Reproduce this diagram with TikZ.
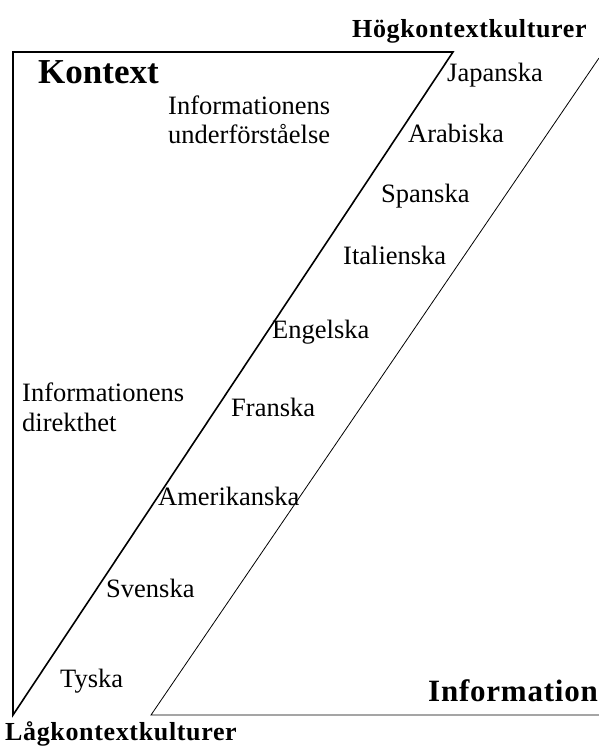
\documentclass[tikz,border=0pt]{standalone}
\usepackage{fontspec}
\setmainfont{Liberation Serif}
\newfontfamily\spacedbold[LetterSpace=2.5]{Liberation Serif}
\begin{document}
\begin{tikzpicture}[x=1pt,y=-1pt,
  lbl/.style={font=\fontsize{26.5}{30}\selectfont, inner sep=0pt, anchor=base west},
  head/.style={inner sep=0pt, anchor=base west, font=\fontsize{26}{30}\selectfont\spacedbold\bfseries},
  thickline/.style={line width=1.6pt, line join=miter},
  thinline/.style={line width=0.8pt}]
\useasboundingbox (0,0) rectangle (599,747);
% corners
\coordinate (tl) at (13,52);
\coordinate (tr) at (453,52);
\coordinate (bl) at (13,715);
\coordinate (b2) at (151,715);
\coordinate (br) at (599,715);
\coordinate (t2) at (599,58);
\draw[thickline] (bl) -- (tl) -- (tr) -- cycle;
\draw[thinline] (br) -- (b2) -- (t2);
% headings
\node[head] (hog) at (352,37) {Högkontextkulturer};
\node[head] (lag) at (5,740) {Lågkontextkulturer};
\node[inner sep=0pt, anchor=base west, font=\fontsize{35}{40}\selectfont\bfseries] (kontext) at (38,83) {Kontext};
\node[inner sep=0pt, anchor=base west, font=\fontsize{31}{36}\selectfont\spacedbold\bfseries] (info) at (428,701) {Information};
% descriptions
\node[lbl] (under) at (168,114) {Informationens};
\node[lbl] (under2) at (168,143) {underförståelse};
\node[lbl] (dir1) at (22,401) {Informationens};
\node[lbl] (dir2) at (22,431) {direkthet};
% languages
\node[lbl] (jap) at (447,81) {Japanska};
\node[lbl] (ara) at (408,142) {Arabiska};
\node[lbl] (spa) at (381,202) {Spanska};
\node[lbl] (ita) at (343,264) {Italienska};
\node[lbl] (eng) at (272,338) {Engelska};
\node[lbl] (fra) at (231,416) {Franska};
\node[lbl] (ame) at (158,505) {Amerikanska};
\node[lbl] (sve) at (106,597) {Svenska};
\node[lbl] (tys) at (60,687) {Tyska};
\end{tikzpicture}
\end{document}
